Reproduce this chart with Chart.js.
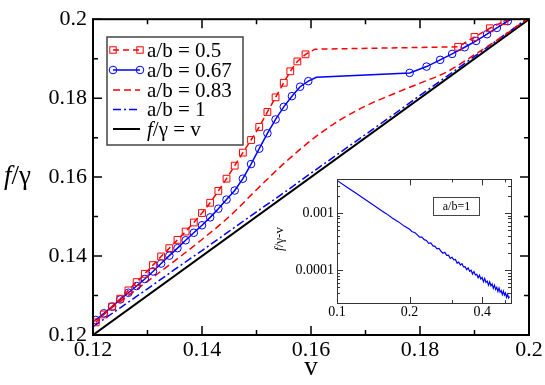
<!DOCTYPE html>
<html><head><meta charset="utf-8">
<script src="https://cdn.jsdelivr.net/npm/chart.js@4.4.0/dist/chart.umd.min.js"></script>
<style>
html,body{margin:0;padding:0;background:#fff;}
#wrap{position:relative;width:545px;height:385px;overflow:hidden;}
#main{position:absolute;left:0;top:0;}
#inset{position:absolute;left:268px;top:168px;}
</style></head><body>
<div id="wrap"><canvas id="main" width="545" height="385"></canvas><canvas id="inset" width="250" height="160"></canvas></div>
<script>
// ---------- data ----------
const red05V = [0.1205,0.1220,0.1235,0.1250,0.1265,0.1280,0.1295,0.1310,0.1325,0.1340,0.1355,0.1370,0.1385,0.1400,0.1415,0.1430,0.1445,0.1460,0.1475,0.1490,0.1505,0.1520,0.1535,0.1550,0.1562,0.1575,0.1590,0.1607,0.1870,0.1900,0.1928,0.1955,0.1983,0.2010];
const red05F = [0.1232,0.1252,0.1272,0.1292,0.1313,0.1334,0.1355,0.1377,0.1399,0.1420,0.1441,0.1462,0.1485,0.1509,0.1535,0.1565,0.1596,0.1629,0.1662,0.1694,0.1727,0.1765,0.1802,0.1839,0.1868,0.1893,0.1911,0.1924,0.1930,0.1955,0.1977,0.1995,0.2013,0.2030];

const blue067V = [0.1205,0.1220,0.1235,0.1250,0.1265,0.1280,0.1295,0.1310,0.1325,0.1340,0.1355,0.1370,0.1385,0.1400,0.1415,0.1430,0.1445,0.1460,0.1475,0.1490,0.1505,0.1520,0.1535,0.1550,0.1565,0.1580,0.1595,0.1610,0.1781,0.1812,0.1837,0.1859,0.1882,0.1903,0.1923,0.1941,0.1961,0.1981];
const blue067F = [0.1238,0.1255,0.1272,0.1290,0.1307,0.1324,0.1342,0.1361,0.1381,0.1401,0.1420,0.1440,0.1459,0.1478,0.1498,0.1520,0.1543,0.1566,0.1596,0.1633,0.1672,0.1711,0.1746,0.1778,0.1805,0.1829,0.1843,0.1853,0.1864,0.1880,0.1897,0.1912,0.1929,0.1945,0.1962,0.1978,0.1995,0.2011];

const red083V = [0.120,0.125,0.130,0.135,0.140,0.145,0.150,0.155,0.160,0.165,0.170,0.175,0.180,0.185,0.190,0.195,0.200];
const red083F = [0.1233,0.1285,0.1336,0.1388,0.1442,0.1500,0.1568,0.1634,0.1693,0.1742,0.1780,0.1810,0.1838,0.1867,0.1910,0.1955,0.2003];

const blue1V = [0.120,0.125,0.130,0.135,0.140,0.145,0.150,0.155,0.160,0.165,0.170,0.175,0.180,0.185,0.190,0.195,0.200];
const blue1F = [0.1221,0.1269,0.1317,0.1366,0.1414,0.1463,0.1512,0.1560,0.1610,0.1659,0.1708,0.1757,0.1807,0.1856,0.1906,0.1955,0.2005];

const identV = [0.12,0.20];
const identF = [0.12,0.20];

const mainTicks = [0.12,0.14,0.16,0.18,0.2];

// inset: f/γ - v  versus v (a/b = 1)
const insetV = [0.100,0.110,0.120,0.130,0.140,0.150,0.160,0.170,0.180,0.190,
  0.200,0.205,0.210,0.215,0.220,0.225,0.230,0.235,0.240,0.245,0.250,0.255,0.260,0.265,0.270,0.275,0.280,0.285,0.290,0.295,
  0.300,0.305,0.310,0.315,0.320,0.325,0.330,0.335,0.340,0.345,0.350,0.355,0.360,0.365,0.370,0.375,0.380,0.385,0.390,0.395,
  0.400,0.405,0.410,0.415,0.420,0.425,0.430,0.435,0.440,0.445,0.450,0.455,0.460,0.465,0.470,0.475,0.480,0.485,0.490,0.495,
  0.500,0.505,0.510,0.515,0.520];
const insetY = [3.70e-3,2.82e-3,2.20e-3,1.75e-3,1.42e-3,1.16e-3,9.72e-4,8.10e-4,6.97e-4,5.88e-4,
  5.18e-4,4.68e-4,4.55e-4,4.17e-4,3.78e-4,3.77e-4,3.41e-4,3.30e-4,2.93e-4,2.99e-4,2.66e-4,2.61e-4,2.35e-4,2.39e-4,2.14e-4,1.98e-4,2.06e-4,1.81e-4,1.83e-4,1.61e-4,
  1.68e-4,1.51e-4,1.54e-4,1.33e-4,1.38e-4,1.23e-4,1.30e-4,1.14e-4,1.15e-4,1.02e-4,1.10e-4,9.57e-5,9.96e-5,8.57e-5,9.48e-5,8.27e-5,8.46e-5,7.36e-5,8.16e-5,6.99e-5,
  7.46e-5,6.30e-5,7.14e-5,6.13e-5,6.43e-5,5.49e-5,6.23e-5,5.31e-5,5.73e-5,4.82e-5,5.48e-5,4.62e-5,5.00e-5,4.25e-5,4.88e-5,4.13e-5,4.39e-5,3.73e-5,4.30e-5,3.68e-5,
  3.99e-5,3.36e-5,3.80e-5,3.28e-5,3.46e-5];
const insetXLabels = [0.1,0.2,0.4];
const insetYLabels = [0.001,0.0001];

// ---------- helpers ----------
const FONT = "'Liberation Serif','Times New Roman',serif";
function fmt(v){ return String(Number(v.toFixed(4))); }
function xy(vs, fs){ return vs.map((v,i)=>({x:v,y:fs[i]})); }
function cornerRadius(vs, r){
  return c => { const i=c.dataIndex; const n=vs[i+1]; return (n!==undefined && n-vs[i] > 0.01) ? 0 : r; };
}
function drawRich(ctx, parts, x, y, align){
  let w=0;
  parts.forEach(p=>{ctx.font=p.f; w+=ctx.measureText(p.t).width;});
  let cx = align==='center' ? x-w/2 : x;
  parts.forEach(p=>{ctx.font=p.f; ctx.textAlign='left'; ctx.fillText(p.t,cx,y); cx+=ctx.measureText(p.t).width;});
}

// ---------- main chart decorations ----------
const mainDeco = {
  id:'mainDeco',
  afterDatasetsDraw(chart){
    const {ctx, chartArea:a, scales:{x,y}} = chart;
    ctx.save();
    ctx.strokeStyle='#000';
    ctx.lineWidth=1.5;
    const tk = (vals) => {
      const out=[];
      for(let i=0;i<vals.length;i++){
        out.push({v:vals[i], L:9});
        if(i<vals.length-1) out.push({v:(vals[i]+vals[i+1])/2, L:5});
      }
      return out;
    };
    const xv = x.ticks.map(t=>t.value), yv = y.ticks.map(t=>t.value);
    ctx.beginPath();
    tk(xv).forEach(t=>{const p=x.getPixelForValue(t.v);
      ctx.moveTo(p,a.bottom); ctx.lineTo(p,a.bottom-t.L);
      ctx.moveTo(p,a.top); ctx.lineTo(p,a.top+t.L);});
    tk(yv).forEach(t=>{const p=y.getPixelForValue(t.v);
      ctx.moveTo(a.left,p); ctx.lineTo(a.left+t.L,p);
      ctx.moveTo(a.right,p); ctx.lineTo(a.right-t.L,p);});
    ctx.stroke();
    ctx.lineWidth=2;
    ctx.strokeRect(a.left,a.top,a.right-a.left,a.bottom-a.top);

    // y title "f/γ"
    ctx.fillStyle='#000'; ctx.textBaseline='alphabetic';
    drawRich(ctx,[{t:'f',f:'italic 27px '+FONT},{t:'/γ',f:'27px '+FONT}],4,184,'left');

    // legend
    const bx=107, by=37, bw=136, bh=108;
    ctx.fillStyle='#fff'; ctx.fillRect(bx,by,bw,bh);
    ctx.strokeStyle='#444'; ctx.lineWidth=1.5; ctx.strokeRect(bx,by,bw,bh);
    const x0=113, x1=140, tx=147;
    const rows=[50,70,90,109.5,129];
    const ds = chart.data.datasets;
    const line=(yy,color,dash,w)=>{ctx.save();ctx.strokeStyle=color;ctx.lineWidth=w;ctx.setLineDash(dash);ctx.beginPath();ctx.moveTo(x0,yy);ctx.lineTo(x1,yy);ctx.stroke();ctx.restore();};
    line(rows[0],'#ff0000',[6,4],1.5);
    ctx.strokeStyle='#ff0000'; ctx.lineWidth=1;
    [x0,x1].forEach(px=>ctx.strokeRect(px-3.2,rows[0]-3.2,6.4,6.4));
    line(rows[1],'#0000ff',[],1.5);
    ctx.strokeStyle='#0000ff'; ctx.lineWidth=1;
    [x0,x1].forEach(px=>{ctx.beginPath();ctx.arc(px,rows[1],3.8,0,Math.PI*2);ctx.stroke();});
    line(rows[2],'#ff0000',[7,4],1.5);
    line(rows[3],'#0000ff',[8,3,2,3],1.5);
    line(rows[4],'#000000',[],2);
    ctx.fillStyle='#000'; ctx.textBaseline='middle';
    const F='21px '+FONT;
    drawRich(ctx,[{t:ds[0].label,f:F}],tx,rows[0]+1,'left');
    drawRich(ctx,[{t:ds[1].label,f:F}],tx,rows[1]+1,'left');
    drawRich(ctx,[{t:ds[2].label,f:F}],tx,rows[2]+1,'left');
    drawRich(ctx,[{t:ds[3].label,f:F}],tx,rows[3]+1,'left');
    drawRich(ctx,[{t:'f',f:'italic '+F},{t:'/γ = v',f:F}],tx,rows[4]+1,'left');
    ctx.restore();
  }
};

new Chart(document.getElementById('main'),{
  type:'line',
  data:{datasets:[
    {label:'a/b = 0.5', data:xy(red05V,red05F), borderColor:'#ff0000', borderWidth:1.5, borderDash:[6,4],
     pointStyle:'rect', pointRadius:cornerRadius(red05V,4.8), pointBorderColor:'#ff0000', pointBackgroundColor:'rgba(0,0,0,0)', pointBorderWidth:1, clip:0},
    {label:'a/b = 0.67', data:xy(blue067V,blue067F), borderColor:'#0000ff', borderWidth:1.5,
     pointStyle:'circle', pointRadius:cornerRadius(blue067V,3.8), pointBorderColor:'#0000ff', pointBackgroundColor:'rgba(0,0,0,0)', pointBorderWidth:1, clip:0},
    {label:'a/b = 0.83', data:xy(red083V,red083F), borderColor:'#ff0000', borderWidth:1.5, borderDash:[7,4], pointRadius:0, cubicInterpolationMode:'monotone', clip:0},
    {label:'a/b = 1', data:xy(blue1V,blue1F), borderColor:'#0000ff', borderWidth:1.5, borderDash:[8,3,2,3], pointRadius:0, clip:0},
    {label:'f/γ = v', data:xy(identV,identF), borderColor:'#000000', borderWidth:2, pointRadius:0, clip:0}
  ]},
  options:{
    responsive:false, animation:false, devicePixelRatio:1, events:[],
    layout:{autoPadding:false, padding:{left:0,top:14,right:16,bottom:0}},
    plugins:{legend:{display:false}, tooltip:{enabled:false}},
    scales:{
      x:{type:'linear', min:0.12, max:0.2,
         afterFit:s=>{s.height=50;},
         afterBuildTicks:s=>{s.ticks=mainTicks.map(v=>({value:v}));},
         ticks:{color:'#000', font:{family:FONT,size:22}, padding:2, maxRotation:0, autoSkip:false, callback:v=>fmt(v)},
         grid:{display:false, drawTicks:false}, border:{display:false},
         title:{display:true, text:'v', color:'#000', font:{family:FONT,size:27}, padding:{top:0,bottom:1}}},
      y:{type:'linear', min:0.12, max:0.2,
         afterFit:s=>{s.width=93;},
         afterBuildTicks:s=>{s.ticks=mainTicks.map(v=>({value:v}));},
         ticks:{color:'#000', font:{family:FONT,size:22}, padding:6, autoSkip:false, callback:v=>fmt(v)},
         grid:{display:false, drawTicks:false}, border:{display:false}}
    }
  },
  plugins:[mainDeco]
});

// ---------- inset ----------
const isMajorLog = v => { const m = v/Math.pow(10,Math.floor(Math.log10(v)+1e-9)); return Math.abs(m-1)<1e-6; };
const isNiceLog = v => { const m = v/Math.pow(10,Math.floor(Math.log10(v)+1e-9)); return Math.abs(m-Math.round(m))<1e-6; };
const near = (v,list) => list.some(l=>Math.abs(v-l)/l<1e-6);

const insetDeco = {
  id:'insetDeco',
  beforeDatasetsDraw(chart){
    const {ctx, chartArea:a} = chart;
    ctx.save(); ctx.fillStyle='#fff'; ctx.fillRect(a.left,a.top,a.right-a.left,a.bottom-a.top); ctx.restore();
  },
  afterDatasetsDraw(chart){
    const {ctx, chartArea:a, scales:{x,y}} = chart;
    ctx.save();
    ctx.strokeStyle='#333'; ctx.lineWidth=1;
    ctx.beginPath();
    x.ticks.forEach(t=>{ if(!isNiceLog(t.value)||t.value>x.max||t.value<x.min) return;
      const p=Math.round(x.getPixelForValue(t.value))+0.5, L=near(t.value,insetXLabels)?6:3;
      ctx.moveTo(p,a.bottom); ctx.lineTo(p,a.bottom-L); ctx.moveTo(p,a.top); ctx.lineTo(p,a.top+L);});
    y.ticks.forEach(t=>{ if(!isNiceLog(t.value)||t.value>y.max||t.value<y.min) return;
      const p=Math.round(y.getPixelForValue(t.value))+0.5, L=isMajorLog(t.value)?6:3;
      ctx.moveTo(a.left,p); ctx.lineTo(a.left+L,p); ctx.moveTo(a.right,p); ctx.lineTo(a.right-L,p);});
    ctx.stroke();
    ctx.strokeRect(Math.round(a.left)+0.5,Math.round(a.top)+0.5,Math.round(a.right-a.left),Math.round(a.bottom-a.top));
    // legend box
    ctx.strokeStyle='#444'; ctx.strokeRect(165.5,29.5,46,18);
    ctx.fillStyle='#000'; ctx.textBaseline='middle';
    drawRich(ctx,[{t:chart.data.datasets[0].label,f:'12px '+FONT}],188.5,39,'center');
    // y title
    ctx.translate(12,71); ctx.rotate(-Math.PI/2);
    ctx.textBaseline='middle';
    drawRich(ctx,[{t:'f',f:'italic 13px '+FONT},{t:'/γ-v',f:'13px '+FONT}],0,0,'center');
    ctx.restore();
  }
};

new Chart(document.getElementById('inset'),{
  type:'line',
  data:{datasets:[
    {label:'a/b=1', data:xy(insetV,insetY), borderColor:'#0000ff', borderWidth:1.2, pointRadius:0, clip:0}
  ]},
  options:{
    responsive:false, animation:false, devicePixelRatio:1, events:[],
    layout:{autoPadding:false, padding:{left:0,top:7,right:7,bottom:0}},
    plugins:{legend:{display:false}, tooltip:{enabled:false}},
    scales:{
      x:{type:'logarithmic', min:0.1, max:0.527,
         afterFit:s=>{s.height=25;},
         ticks:{color:'#000', font:{family:FONT,size:14}, padding:1, maxRotation:0, autoSkip:false,
                callback:v=>near(v,insetXLabels)?fmt(v):''},
         grid:{display:false, drawTicks:false}, border:{display:false}},
      y:{type:'logarithmic', min:2.67e-5, max:3.85e-3,
         afterFit:s=>{s.width=69;},
         ticks:{color:'#000', font:{family:FONT,size:14}, padding:3, autoSkip:false,
                callback:v=>near(v,insetYLabels)?String(v):''},
         grid:{display:false, drawTicks:false}, border:{display:false}}
    }
  },
  plugins:[insetDeco]
});
</script>
</body></html>
